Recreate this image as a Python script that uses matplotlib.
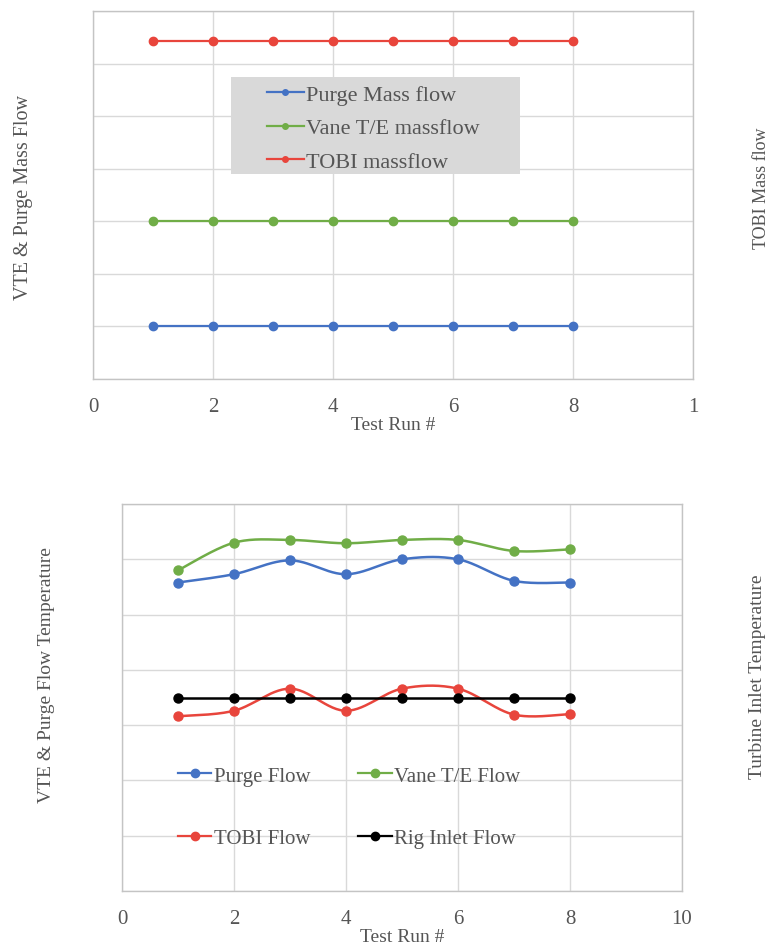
import numpy as np
import matplotlib
matplotlib.use("Agg")
import matplotlib.pyplot as plt
from matplotlib.lines import Line2D
from matplotlib.patches import Rectangle

plt.rcParams['font.family'] = ['Liberation Serif', 'DejaVu Serif']

# ---- data ----
runs = [1, 2, 3, 4, 5, 6, 7, 8]

# mass flows (arbitrary units)
purge_mass = [0.10, 0.10, 0.10, 0.10, 0.10, 0.10, 0.10, 0.10]
vane_mass = [0.30, 0.30, 0.30, 0.30, 0.30, 0.30, 0.30, 0.30]
tobi_mass = [0.643, 0.643, 0.643, 0.643, 0.643, 0.643, 0.643, 0.643]

# flow temperatures (arbitrary units)
purge_temp = [558, 573, 598, 573, 600, 600, 561, 558]
vane_temp = [580, 630, 635, 629, 635, 635, 615, 618]
tobi_temp = [316, 326, 366, 326, 366, 366, 319, 320]
rig_inlet_temp = [350, 350, 350, 350, 350, 350, 350, 350]

top_xticklabels = ['0', '2', '4', '6', '8', '1']
bottom_xticklabels = ['0', '2', '4', '6', '8', '10']

BLUE = '#4472C4'
GREEN = '#70AD47'
RED = '#E8453C'
BLACK = '#000000'
TXT = '#555555'
GRID = '#d9d9d9'
FS = 14


def smooth(x, y, n=30):
    """Excel-style smoothed line: cubic Bezier through the points."""
    x = np.asarray(x, float)
    y = np.asarray(y, float)
    px = np.concatenate([[x[0]], x, [x[-1]]])
    py = np.concatenate([[y[0]], y, [y[-1]]])
    t = np.linspace(0, 1, n)
    xs, ys = [], []
    for i in range(len(x) - 1):
        p0, p1, p2, p3 = i, i + 1, i + 2, i + 3
        cx1 = px[p1] + (px[p2] - px[p0]) / 6
        cy1 = py[p1] + (py[p2] - py[p0]) / 6
        cx2 = px[p2] - (px[p3] - px[p1]) / 6
        cy2 = py[p2] - (py[p3] - py[p1]) / 6
        bx = (1 - t) ** 3 * px[p1] + 3 * (1 - t) ** 2 * t * cx1 + 3 * (1 - t) * t ** 2 * cx2 + t ** 3 * px[p2]
        by = (1 - t) ** 3 * py[p1] + 3 * (1 - t) ** 2 * t * cy1 + 3 * (1 - t) * t ** 2 * cy2 + t ** 3 * py[p2]
        xs.append(bx)
        ys.append(by)
    return np.concatenate(xs), np.concatenate(ys)


def style_axes(ax, xlim, ylim, yticks, xticklabels):
    ax.set_xlim(*xlim)
    ax.set_ylim(*ylim)
    ax.set_xticks([0, 2, 4, 6, 8, 10])
    ax.set_xticklabels(xticklabels)
    ax.set_yticks(yticks)
    ax.set_yticklabels([])
    ax.tick_params(length=0, labelsize=FS + 1, labelcolor=TXT, pad=13)
    ax.grid(True, color=GRID, lw=1.0)
    ax.set_axisbelow(True)
    for s in ax.spines.values():
        s.set_color('#c4c4c4')
        s.set_linewidth(1.0)


fig = plt.figure(figsize=(7.71, 9.45), dpi=100)

# ---- mass flow chart ----
ax1 = fig.add_axes([93 / 771, 1 - 380 / 945, 600 / 771, 368 / 945])
style_axes(ax1, (0, 10), (0, 0.7), np.arange(0, 0.71, 0.1), top_xticklabels)

for vals, c in [(purge_mass, BLUE), (vane_mass, GREEN), (tobi_mass, RED)]:
    ax1.plot(runs, vals, color=c, lw=1.6, marker='o', ms=6, zorder=3)

ax1.add_patch(Rectangle((0.23, 0.557), 0.482, 0.264, transform=ax1.transAxes,
                        facecolor='#d9d9d9', edgecolor='none', zorder=2))
h1 = [Line2D([], [], color=c, lw=1.6, marker='o', ms=4) for c in (BLUE, GREEN, RED)]
ax1.legend(h1, ['Purge Mass flow', 'Vane T/E massflow', 'TOBI massflow'],
           loc='center left', bbox_to_anchor=((267 - 93) / 600, (380 - 129) / 368),
           frameon=False, borderpad=0, borderaxespad=0, handlelength=1.65,
           handletextpad=0.12, labelspacing=0.58, fontsize=FS + 2, labelcolor=TXT)

ax1.set_xlabel('Test Run #', fontsize=FS, color=TXT, labelpad=0)
fig.text(24 / 771, 1 - 197 / 945, 'VTE & Purge Mass Flow', rotation=90,
         ha='center', va='center', fontsize=FS + 0.5, color=TXT)
fig.text(762 / 771, 1 - 188 / 945, 'TOBI Mass flow', rotation=90,
         ha='center', va='center', fontsize=FS - 1, color=TXT)

# ---- temperature chart ----
ax2 = fig.add_axes([122 / 771, 1 - 892 / 945, 560 / 771, 387 / 945])
style_axes(ax2, (0, 10), (0, 700), np.arange(0, 701, 100), bottom_xticklabels)

series = [(purge_temp, BLUE, 'Purge Flow'), (vane_temp, GREEN, 'Vane T/E Flow'),
          (tobi_temp, RED, 'TOBI Flow'), (rig_inlet_temp, BLACK, 'Rig Inlet Flow')]
for vals, c, _ in series:
    sx, sy = smooth(runs, vals)
    ax2.plot(sx, sy, color=c, lw=1.8, zorder=3, solid_capstyle='round')
    ax2.plot(runs, vals, linestyle='none', marker='o', ms=6.5, color=c, zorder=4)

h2 = [Line2D([], [], color=c, lw=1.6, marker='o', ms=6) for _, c, _ in series]
order = [0, 2, 1, 3]
ax2.legend([h2[i] for i in order], [series[i][2] for i in order], ncol=2,
           loc='center left', bbox_to_anchor=((178 - 122) / 560, (892 - 808) / 387),
           frameon=False, borderpad=0, borderaxespad=0, handlelength=1.6,
           handletextpad=0.12, labelspacing=2.05, columnspacing=2.3,
           fontsize=FS + 1, labelcolor=TXT)

ax2.set_xlabel('Test Run #', fontsize=FS, color=TXT, labelpad=0)
fig.text(47 / 771, 1 - 675 / 945, 'VTE & Purge Flow Temperature', rotation=90,
         ha='center', va='center', fontsize=FS, color=TXT)
fig.text(757 / 771, 1 - 677 / 945, 'Turbine Inlet Temperature', rotation=90,
         ha='center', va='center', fontsize=FS, color=TXT)

fig.savefig('out.png', dpi=100, facecolor='white')
